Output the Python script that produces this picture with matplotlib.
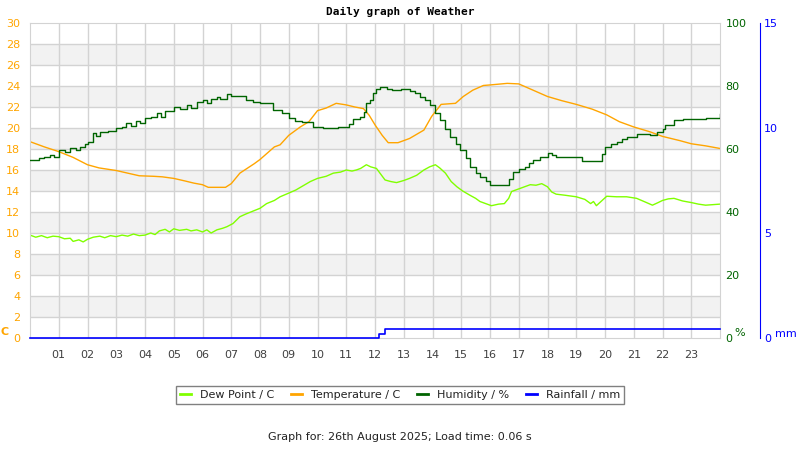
import numpy as np
import matplotlib
matplotlib.use('Agg')
import matplotlib.pyplot as plt

# Data (hour of day, value)
temp_h = [0.0, 0.5, 1.0, 1.5, 2.0, 2.4, 3.0, 3.4, 3.8, 4.3, 4.6, 5.0, 5.4, 5.7, 6.0, 6.2,
          6.8, 7.0, 7.3, 7.8, 8.0, 8.5, 8.7, 9.0, 9.4, 9.7, 10.0, 10.3, 10.65, 11.0, 11.3,
          11.6, 11.8, 12.0, 12.25, 12.46, 12.8, 13.2, 13.7, 13.97, 14.3, 14.8, 15.07, 15.4,
          15.77, 16.0, 16.6, 17.0, 17.5, 18.0, 18.5, 19.0, 19.55, 20.06, 20.5, 21.0, 21.55,
          22.0, 22.6, 23.0, 23.5, 24.0]
temp = [18.7, 18.2, 17.75, 17.2, 16.5, 16.2, 15.95, 15.7, 15.45, 15.4, 15.35, 15.2, 14.95,
        14.75, 14.6, 14.35, 14.35, 14.7, 15.7, 16.6, 17.0, 18.2, 18.4, 19.3, 20.1, 20.6,
        21.65, 21.9, 22.35, 22.2, 22.0, 21.85, 21.2, 20.3, 19.3, 18.6, 18.6, 19.0, 19.8,
        21.1, 22.25, 22.35, 23.0, 23.6, 24.05, 24.1, 24.25, 24.2, 23.6, 23.0, 22.6, 22.25,
        21.8, 21.25, 20.6, 20.1, 19.65, 19.2, 18.8, 18.5, 18.3, 18.05]

hum_h = [0.0, 0.3, 0.5, 0.7, 0.85, 1.0, 1.2, 1.4, 1.6, 1.74, 1.9, 2.0, 2.2, 2.3, 2.43, 2.7,
         3.0, 3.2, 3.35, 3.5, 3.7, 3.83, 4.0, 4.2, 4.4, 4.55, 4.7, 5.0, 5.2, 5.45, 5.6, 5.8,
         6.0, 6.15, 6.3, 6.5, 6.6, 6.84, 7.0, 7.3, 7.5, 7.77, 8.0, 8.23, 8.45, 8.75, 9.0,
         9.2, 9.45, 9.85, 10.2, 10.55, 10.7, 10.9, 11.1, 11.25, 11.48, 11.6, 11.7, 11.83,
         11.94, 12.05, 12.17, 12.4, 12.6, 12.9, 13.2, 13.4, 13.55, 13.75, 13.9, 14.1, 14.25,
         14.45, 14.6, 14.8, 14.95, 15.15, 15.3, 15.5, 15.65, 15.85, 16.0, 16.25, 16.5, 16.65,
         16.8, 17.0, 17.2, 17.35, 17.5, 17.75, 18.0, 18.15, 18.3, 18.7, 19.0, 19.2, 19.5,
         19.78, 19.9, 20.0, 20.2, 20.4, 20.6, 20.75, 21.1, 21.55, 21.8, 22.0, 22.1, 22.4,
         22.7, 23.0, 23.5, 23.9, 24.0]
hum = [56.5, 57.0, 57.4, 58.1, 57.5, 59.7, 59.0, 60.3, 59.8, 60.7, 61.5, 62.3, 65.0, 64.0,
       65.5, 65.8, 66.6, 67.0, 68.1, 67.3, 69.0, 68.4, 69.7, 70.3, 71.3, 70.2, 72.0, 73.4,
       72.8, 74.0, 73.0, 75.0, 75.6, 74.6, 76.0, 76.6, 75.8, 77.5, 76.8, 76.8, 75.6, 75.0,
       74.5, 74.5, 72.4, 71.3, 69.7, 69.0, 68.7, 67.1, 66.6, 66.6, 67.1, 67.1, 68.0, 69.4,
       70.3, 71.8, 74.5, 75.5, 77.7, 79.0, 79.8, 79.2, 78.7, 79.0, 78.5, 77.8, 76.6, 75.5,
       74.0, 71.5, 69.2, 66.5, 63.9, 61.5, 59.7, 57.0, 54.4, 52.5, 51.2, 49.8, 48.6, 48.6,
       48.6, 50.5, 52.8, 53.5, 54.4, 55.5, 56.5, 57.5, 58.8, 58.0, 57.4, 57.4, 57.4, 56.3,
       56.3, 56.3, 58.5, 60.7, 61.5, 62.3, 63.2, 63.9, 64.7, 64.5, 65.5, 66.5, 67.6, 69.2,
       69.4, 69.4, 69.7, 69.7, 71.0]

dew_h = [0.0, 0.2, 0.4, 0.6, 0.8, 1.0, 1.2, 1.4, 1.5, 1.7, 1.85, 2.0, 2.2, 2.43, 2.6, 2.8,
         3.0, 3.2, 3.4, 3.6, 3.8, 4.0, 4.2, 4.35, 4.5, 4.7, 4.85, 5.0, 5.2, 5.45, 5.6, 5.8,
         6.0, 6.15, 6.3, 6.5, 6.7, 6.85, 7.06, 7.3, 7.5, 7.77, 8.0, 8.23, 8.5, 8.7, 9.0,
         9.25, 9.5, 9.75, 10.0, 10.3, 10.55, 10.8, 11.0, 11.2, 11.35, 11.5, 11.7, 11.85,
         12.05, 12.2, 12.35, 12.55, 12.75, 13.0, 13.2, 13.45, 13.7, 13.9, 14.1, 14.25, 14.45,
         14.65, 14.85, 15.05, 15.3, 15.5, 15.65, 15.85, 16.05, 16.3, 16.5, 16.65, 16.75, 17.0,
         17.2, 17.4, 17.6, 17.8, 18.0, 18.15, 18.3, 18.6, 19.0, 19.3, 19.5, 19.6, 19.7, 19.9,
         20.06, 20.4, 20.75, 21.1, 21.4, 21.65, 21.85, 22.0, 22.2, 22.4, 22.7, 23.0, 23.25,
         23.5, 23.75, 24.0]
dew = [9.8, 9.6, 9.75, 9.55, 9.7, 9.65, 9.45, 9.5, 9.2, 9.35, 9.15, 9.4, 9.6, 9.7, 9.55,
       9.75, 9.65, 9.8, 9.7, 9.9, 9.75, 9.8, 10.0, 9.85, 10.2, 10.35, 10.1, 10.4, 10.25,
       10.35, 10.2, 10.3, 10.1, 10.3, 10.0, 10.3, 10.45, 10.6, 10.9, 11.55, 11.8, 12.1,
       12.35, 12.8, 13.1, 13.45, 13.8, 14.1, 14.5, 14.9, 15.2, 15.4, 15.7, 15.8, 16.0, 15.9,
       16.0, 16.15, 16.5, 16.3, 16.15, 15.6, 15.05, 14.9, 14.8, 15.0, 15.2, 15.5, 16.0, 16.3,
       16.5, 16.2, 15.7, 14.9, 14.4, 14.0, 13.6, 13.3, 13.0, 12.8, 12.6, 12.75, 12.8, 13.3,
       13.95, 14.2, 14.4, 14.6, 14.55, 14.7, 14.4, 13.9, 13.7, 13.6, 13.45, 13.2, 12.8, 13.0,
       12.6, 13.1, 13.5, 13.45, 13.45, 13.3, 12.95, 12.65, 12.9, 13.1, 13.25, 13.3, 13.05,
       12.9, 12.75, 12.65, 12.7, 12.75]

rain_h = [0.0, 12.14, 12.36, 24.0]
rain = [0.0, 0.2, 0.45, 0.45]

hour_labels = ['%02d' % h for h in range(1, 24)]

orange = '#FFA500'
dgreen = '#006400'
lgreen = '#80FF00'
blue = '#0000FF'
gridc = '#d3d3d3'

fig = plt.figure(figsize=(8, 4.5), dpi=100)
ax = fig.add_axes([30/800, 1 - 338/450, 690/800, 315/450])

# alternating background bands + grid
for lo in range(2, 30, 4):
    ax.axhspan(lo, lo + 2, color='#f2f2f2', zorder=0, lw=0)
for y in range(2, 30, 2):
    ax.axhline(y, color=gridc, lw=1, zorder=0.5)
for h in range(1, 24):
    ax.axvline(h, color=gridc, lw=1, zorder=0.5)

l_dew, = ax.plot(dew_h, dew, color=lgreen, lw=1, label='Dew Point / C', zorder=2)
l_temp, = ax.plot(temp_h, temp, color=orange, lw=1, label='Temperature / C', zorder=2)
ax.set_xlim(0, 24)
ax.set_ylim(0, 30)
ax.set_yticks(range(0, 31, 2))
ax.set_xticks(range(1, 24))
ax.set_xticklabels(hour_labels)
ax.tick_params(axis='y', length=0, pad=7, labelcolor=orange, labelsize=8)
ax.tick_params(axis='x', length=0, pad=9, labelcolor='#404040', labelsize=8)
for s in ax.spines.values():
    s.set_color(gridc)

axh = ax.twinx()
l_hum, = axh.plot(hum_h, hum, color=dgreen, lw=1, drawstyle='steps-post', label='Humidity / %')
axh.set_ylim(0, 100)
axh.set_yticks(range(0, 101, 20))
axh.tick_params(axis='y', length=0, pad=4, labelcolor=dgreen, labelsize=8)
for s in axh.spines.values():
    s.set_visible(False)

axr = ax.twinx()
l_rain, = axr.plot(rain_h, rain, color=blue, lw=1.2, drawstyle='steps-post',
                   label='Rainfall / mm', clip_on=False, zorder=5)
axr.set_ylim(0, 15)
axr.set_yticks([0, 5, 10, 15])
axr.spines['right'].set_position(('axes', 730/690))
axr.spines['right'].set_color(blue)
for k in ['left', 'top', 'bottom']:
    axr.spines[k].set_visible(False)
axr.tick_params(axis='y', length=0, pad=3, labelcolor=blue, labelsize=8)

fig.text(400/800, 1 - 12/450, 'Daily graph of Weather', ha='center', va='center',
         family='DejaVu Sans Mono', weight='bold', fontsize=8)
fig.text(5/800, 1 - 332/450, 'C', color=orange, weight='bold', fontsize=8, ha='center', va='center')
fig.text(740/800, 1 - 333/450, '%', color=dgreen, fontsize=8, ha='center', va='center')
fig.text(786/800, 1 - 334/450, 'mm', color=blue, fontsize=8, ha='center', va='center')

leg = fig.legend(handles=[l_dew, l_temp, l_hum, l_rain], loc='center',
                 bbox_to_anchor=(400/800, 1 - 395/450), ncol=4, fontsize=8,
                 handlelength=1.0, handletextpad=0.8, columnspacing=1.5,
                 fancybox=False, edgecolor='#808080', framealpha=1,
                 borderpad=0.4)
leg.get_frame().set_linewidth(1)
for t in leg.get_texts():
    t.set_color('#222222')
for lh in leg.get_lines():
    lh.set_linewidth(2)

fig.text(400/800, 1 - 437/450, 'Graph for: 26th August 2025; Load time: 0.06 s',
         ha='center', va='center', fontsize=8, color='#222222')

fig.savefig('out.png', dpi=100)
